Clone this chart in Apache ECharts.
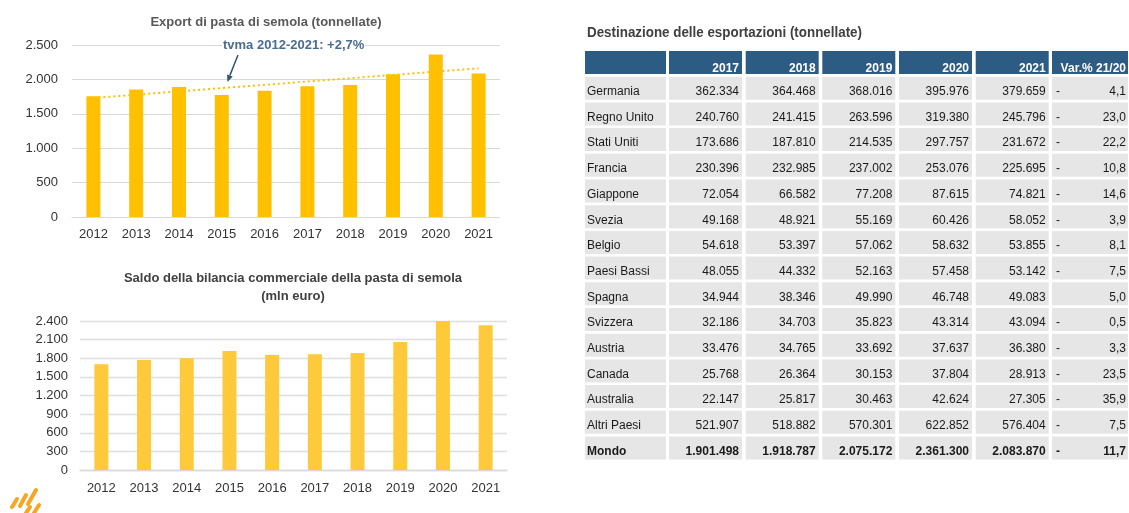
<!DOCTYPE html>
<html>
<head>
<meta charset="utf-8">
<script src="https://cdn.jsdelivr.net/npm/echarts@6/dist/echarts.min.js"></script>
<style>
  html, body { margin: 0; padding: 0; background: #ffffff; }
  #chart { width: 1129px; height: 513px; }
</style>
</head>
<body>
<div id="chart"></div>
<script>
// ---- Export di pasta di semola (migliaia di tonnellate) ----
const years = ['2012', '2013', '2014', '2015', '2016', '2017', '2018', '2019', '2020', '2021'];
const exportKt = [1755, 1855, 1890, 1775, 1835, 1901, 1919, 2075, 2361, 2084];
// linear trend, value at 2012 and at 2021
const trendKt = [1730, 2161];
const exportTicks = { min: 0, max: 2500, interval: 500 };

// ---- Saldo della bilancia commerciale (mln euro) ----
const saldoMln = [1702, 1771, 1798, 1916, 1852, 1863, 1884, 2061, 2426, 2330];
const saldoTicks = { min: 0, max: 2400, interval: 300 };

// ---- Destinazione delle esportazioni (tonnellate) ----
const tableYears = ['2017', '2018', '2019', '2020', '2021'];
const destinations = ['Germania', 'Regno Unito', 'Stati Uniti', 'Francia', 'Giappone', 'Svezia', 'Belgio',
  'Paesi Bassi', 'Spagna', 'Svizzera', 'Austria', 'Canada', 'Australia', 'Altri Paesi', 'Mondo'];
const exp2017 = [362334, 240760, 173686, 230396, 72054, 49168, 54618, 48055, 34944, 32186, 33476, 25768, 22147, 521907, 1901498];
const exp2018 = [364468, 241415, 187810, 232985, 66582, 48921, 53397, 44332, 38346, 34703, 34765, 26364, 25817, 518882, 1918787];
const exp2019 = [368016, 263596, 214535, 237002, 77208, 55169, 57062, 52163, 49990, 35823, 33692, 30153, 30463, 570301, 2075172];
const exp2020 = [395976, 319380, 297757, 253076, 87615, 60426, 58632, 57458, 46748, 43314, 37637, 37804, 42624, 622852, 2361300];
const exp2021 = [379659, 245796, 231672, 225695, 74821, 58052, 53855, 53142, 49083, 43094, 36380, 28913, 27305, 576404, 2083870];
const varPct = [-4.1, -23.0, -22.2, -10.8, -14.6, -3.9, -8.1, -7.5, 5.0, -0.5, -3.3, -23.5, -35.9, -7.5, -11.7];
const varHeader = 'Var.% 21/20';
const tableTitle = 'Destinazione delle esportazioni (tonnellate)';

const FONT = '"Liberation Sans", Arial, Helvetica, sans-serif';

function fmtThousands(n) {
  return String(n).replace(/\B(?=(\d{3})+(?!\d))/g, '.');
}
function fmtPct(v) {
  return Math.abs(v).toFixed(1).replace('.', ',');
}

// condensed look for the table heading: squeeze a regular bold face horizontally
const TABLE_TITLE_FONT = 'bold 15px ' + FONT;
const TABLE_TITLE_WIDTH = 275;
const measureCtx = document.createElement('canvas').getContext('2d');
measureCtx.font = TABLE_TITLE_FONT;
const tableTitleScale = TABLE_TITLE_WIDTH / measureCtx.measureText(tableTitle).width;

// table column layout within the table area (px)
const colLeft = [0, 84, 160.7, 237.3, 314, 390.7, 467];
const colWidth = [81, 73, 73, 73, 73, 73, 76];
const HEAD_FILL = '#2C5C84';
const CELL_FILL = '#E6E6E6';

// one entry per table cell: [column, row, text, kind, sign]
const rowNames = ['head'].concat(destinations);
const cells = [];
for (let c = 0; c < 7; c++) {
  cells.push([c, 0, c === 0 ? '' : (c <= 5 ? tableYears[c - 1] : varHeader), 'head', '']);
}
const yearCols = [exp2017, exp2018, exp2019, exp2020, exp2021];
destinations.forEach((name, i) => {
  const r = i + 1;
  const b = i === destinations.length - 1 ? 'B' : '';
  cells.push([0, r, name, 'name' + b, '']);
  yearCols.forEach((col, k) => cells.push([k + 1, r, fmtThousands(col[i]), 'num' + b, '']));
  cells.push([6, r, fmtPct(varPct[i]), 'var' + b, varPct[i] < 0 ? '-' : '']);
});

function renderCell(params, api) {
  const [c, r, text, kind, sign] = cells[params.dataIndex];
  const p0 = api.coord([colLeft[c], r]);
  const p1 = api.coord([colLeft[c] + colWidth[c], r]);
  const band = api.size([0, 1])[1];
  const h = band - 2.7;
  const top = p0[1] - band / 2;
  const isHead = kind === 'head';
  const bold = isHead || kind.endsWith('B');
  const font = (bold ? 'bold ' : '') + '12px ' + FONT;
  const fill = isHead ? '#ffffff' : '#1a1a1a';
  const ty = top + h / 2 + (isHead ? 6 : 3.5);
  const children = [{
    type: 'rect',
    shape: { x: p0[0], y: top, width: p1[0] - p0[0], height: h },
    style: { fill: isHead ? HEAD_FILL : CELL_FILL }
  }];
  if (text) {
    const leftAligned = kind.startsWith('name');
    children.push({
      type: 'text',
      style: {
        text: text,
        x: leftAligned ? p0[0] + 2 : p1[0] - (c === 6 ? 2 : 3),
        y: ty,
        align: leftAligned ? 'left' : 'right',
        verticalAlign: 'middle',
        font: font,
        fill: fill
      }
    });
  }
  if (sign) {
    children.push({
      type: 'text',
      style: { text: sign, x: p0[0] + 4, y: ty, align: 'left', verticalAlign: 'middle', font: font, fill: fill }
    });
  }
  return { type: 'group', children: children };
}

const chart = echarts.init(document.getElementById('chart'), null, { renderer: 'canvas' });

const axisLabelStyle = { color: '#333333', fontSize: 13, fontFamily: FONT };
const gridLine = { lineStyle: { color: '#D9D9D9', width: 1 } };

const option = {
  backgroundColor: '#ffffff',
  animation: false,
  title: [
    {
      text: 'Export di pasta di semola (tonnellate)',
      left: 266, top: 15.5, textAlign: 'center', padding: 0,
      textStyle: { fontFamily: FONT, fontSize: 13, fontWeight: 'bold', color: '#595959' }
    },
    {
      text: 'Saldo della bilancia commerciale della pasta di semola\n(mln euro)',
      left: 293, top: 269, textAlign: 'center', padding: 0,
      textStyle: { fontFamily: FONT, fontSize: 13, fontWeight: 'bold', color: '#404040', lineHeight: 18 }
    }
  ],
  grid: [
    { left: 72, right: 629, top: 45, bottom: 296, containLabel: false },
    { left: 80, right: 622, top: 321, bottom: 43, containLabel: false },
    { left: 585, right: 0, top: 51, height: 411.2, containLabel: false }
  ],
  xAxis: [
    {
      type: 'category', gridIndex: 0, data: years,
      axisLine: { lineStyle: { color: '#D9D9D9' } }, axisTick: { show: false },
      axisLabel: Object.assign({ margin: 11 }, axisLabelStyle)
    },
    {
      type: 'category', gridIndex: 1, data: years,
      axisLine: { lineStyle: { color: '#D9D9D9', width: 1.3 } }, axisTick: { show: false },
      axisLabel: Object.assign({ margin: 12 }, axisLabelStyle)
    },
    { type: 'value', gridIndex: 2, min: 0, max: 544, show: false }
  ],
  yAxis: [
    {
      type: 'value', gridIndex: 0, min: exportTicks.min, max: exportTicks.max, interval: exportTicks.interval,
      axisLine: { show: false }, axisTick: { show: false },
      splitLine: gridLine,
      axisLabel: Object.assign({ margin: 14, formatter: v => fmtThousands(v) }, axisLabelStyle)
    },
    {
      type: 'value', gridIndex: 1, min: saldoTicks.min, max: saldoTicks.max, interval: saldoTicks.interval,
      axisLine: { show: false }, axisTick: { show: false },
      splitLine: { lineStyle: { color: '#DEDEDE', width: 1.3 } },
      axisLabel: Object.assign({ margin: 12, formatter: v => fmtThousands(v) }, axisLabelStyle)
    },
    { type: 'category', gridIndex: 2, data: rowNames, inverse: true, show: false }
  ],
  series: [
    {
      name: 'tendenza',
      type: 'line', xAxisIndex: 0, yAxisIndex: 0, z: 1,
      data: years.map((y, i) => i === 0 ? trendKt[0] : (i === years.length - 1 ? trendKt[1] : null)),
      connectNulls: true, symbol: 'none', silent: true,
      lineStyle: { color: '#FFC000', width: 2, type: [2, 3] }
    },
    {
      name: 'Export',
      type: 'bar', xAxisIndex: 0, yAxisIndex: 0, z: 2,
      data: exportKt, barWidth: 14,
      itemStyle: { color: '#FFC000' }
    },
    {
      name: 'Saldo',
      type: 'bar', xAxisIndex: 1, yAxisIndex: 1,
      data: saldoMln, barWidth: 14,
      itemStyle: { color: '#FFC93C' }
    },
    {
      name: 'Destinazione',
      type: 'custom', xAxisIndex: 2, yAxisIndex: 2,
      data: cells.map(d => [colLeft[d[0]], d[1]]),
      encode: { x: 0, y: 1 },
      renderItem: renderCell,
      silent: true
    }
  ],
  graphic: [
    {
      type: 'text', x: 587, y: 25, scaleX: tableTitleScale, z: 10,
      style: { text: tableTitle, x: 0, y: 0, font: TABLE_TITLE_FONT, fill: '#404040' }
    },
    {
      type: 'text', left: 222, top: 39, z: 10,
      style: {
        text: 'tvma 2012-2021: +2,7%', font: 'bold 13px ' + FONT, fill: '#4A6C94',
        backgroundColor: '#ffffff', padding: [0, 1]
      }
    },
    {
      type: 'line', z: 10,
      shape: { x1: 238, y1: 55, x2: 229.9, y2: 75.4 },
      style: { stroke: '#2F5378', lineWidth: 1.5 }
    },
    {
      type: 'polygon', z: 10,
      shape: { points: [[227.5, 82], [232.7, 76.4], [227.0, 74.4]] },
      style: { fill: '#2F5378' }
    },
    // logo strokes
    {
      type: 'group', children: [
        [[12, 507], [17, 499]],
        [[20, 506], [26, 495]],
        [[28, 504], [36, 490]],
        [[26, 513], [30, 507]],
        [[34, 513], [39, 505]]
      ].map(s => ({
        type: 'line',
        shape: { x1: s[0][0], y1: s[0][1], x2: s[1][0], y2: s[1][1] },
        style: { stroke: '#F6A623', lineWidth: 4, lineCap: 'round' }
      }))
    }
  ]
};

chart.setOption(option);
</script>
</body>
</html>
